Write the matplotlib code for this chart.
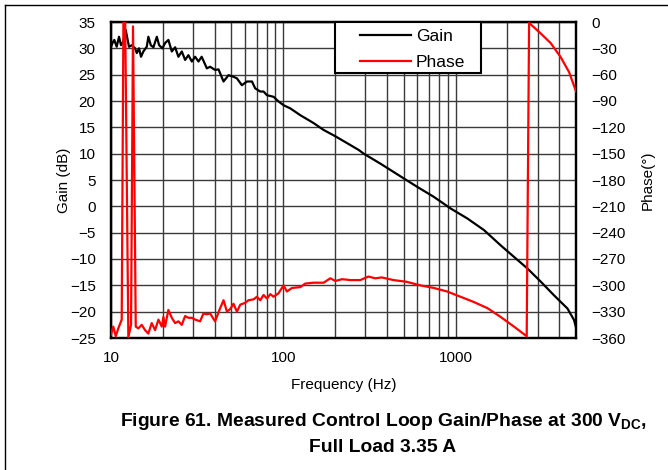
import numpy as np
import matplotlib
matplotlib.use("Agg")
import matplotlib.pyplot as plt
from matplotlib.lines import Line2D
from matplotlib.patches import Rectangle
from matplotlib.ticker import FixedLocator, NullFormatter

plt.rcParams['font.family'] = ['Liberation Sans', 'DejaVu Sans']
plt.rcParams['mathtext.fontset'] = 'custom'
plt.rcParams['mathtext.rm'] = 'Liberation Sans'
plt.rcParams['mathtext.bf'] = 'Liberation Sans:bold'

# ---- data ----
gain_freq = [10.0, 10.27, 10.45, 10.79, 11.13, 11.43, 11.74, 12.17, 12.72, 13.23, 13.79,
             14.11, 14.55, 14.94, 15.41, 16.13, 16.48, 17.02, 17.63, 18.45, 19.02, 19.87,
             20.6, 21.53, 22.54, 23.56, 24.62, 25.76, 26.93, 28.14, 29.46, 30.79, 32.18,
             33.6, 36.0, 37.6, 40.2, 42.1, 45.0, 48.1, 51.4, 53.8, 57.5, 61.5, 65.8, 68.7,
             73.5, 76.8, 80.4, 87.8, 93.9, 100.4, 109.8, 125.6, 150.1, 171.5, 200.6, 234.6,
             274.1, 293.0, 366.4, 500.5, 598.8, 747.7, 935.2, 1169.5, 1460.5, 1826, 2183,
             2612, 3121, 3728, 4461, 4873, 5000]
gain_db = [30.3, 31.2, 31.6, 30.3, 32.2, 30.6, 31.2, 33.5, 30.3, 30.6, 30.0,
           29.1, 30.0, 28.4, 29.4, 30.3, 32.2, 30.6, 30.2, 32.2, 30.6, 30.0,
           31.0, 31.6, 29.4, 30.2, 28.4, 29.4, 27.8, 28.7, 27.5, 28.4, 27.5,
           28.4, 26.2, 26.5, 25.9, 26.0, 23.7, 24.9, 24.6, 24.3, 23.0, 23.7, 23.7, 22.4,
           21.8, 21.8, 21.1, 20.8, 19.9, 19.2, 18.6, 17.3, 15.8, 14.5, 13.3, 12.0,
           10.7, 10.0, 8.1, 5.3, 3.7, 1.8, -0.4, -2.3, -4.5, -7.4, -9.6,
           -11.8, -14.3, -16.9, -19.4, -21.6, -23.0]

phase_freq = [10.0, 10.31, 10.65, 11.03, 11.54, 11.82, 12.06, 12.61, 13.07, 13.42, 13.92,
              14.41, 15.08, 15.76, 16.47, 17.23, 18.03, 18.85, 19.72, 20.14, 20.6, 21.53,
              22.54, 23.56, 24.62, 25.76, 26.93, 28.14, 29.46, 30.79, 32.9, 34.4, 36.0,
              37.6, 40.2, 43.0, 45.0, 47.1, 49.2, 51.4, 53.8, 56.3, 60.0, 62.8, 67.2, 70.3,
              73.5, 76.8, 80.4, 84.1, 87.8, 93.9, 100.4, 104.9, 112.3, 125.6, 134.1, 150.1,
              171.5, 187.4, 200.6, 219.3, 245, 280, 312, 342, 373, 436, 521, 623, 747.7,
              893, 1068, 1277, 1532, 1826, 2183, 2587, 2671, 3119, 3565, 4074, 4557, 5000]
phase_deg = [-356, -347, -358, -349, -339, 20, 20, -359, -345, -5, -347,
             -349, -345, -351, -355, -343, -351, -339, -347, -336, -347, -328,
             -337, -343, -341, -345, -335, -337, -337, -339, -341, -332, -333,
             -332, -341, -326, -317, -330, -327, -321, -330, -322, -320, -317, -316, -313,
             -317, -311, -315, -310, -313, -309, -300, -307, -303, -302, -298, -297,
             -297, -292, -295, -293, -294, -294, -290, -292, -291, -294, -296, -300, -303,
             -307, -313, -319, -326, -336, -347, -358, -1, -13, -24, -40, -57, -79]

gain_ticks = [-25, -20, -15, -10, -5, 0, 5, 10, 15, 20, 25, 30, 35]
phase_ticks = [-360, -330, -300, -270, -240, -210, -180, -150, -120, -90, -60, -30, 0]
freq_ticks = [10, 100, 1000]
freq_tick_labels = ['10', '100', '1000']
legend_labels = ['Gain', 'Phase']

W, H = 668, 470
fig = plt.figure(figsize=(W / 100, H / 100), dpi=100)
ax = fig.add_axes([111 / W, 1 - 338 / H, (576 - 111) / W, (338 - 22) / H])
ax2 = ax.twinx()

ax.set_xscale('log')
ax.set_xlim(10, 5000)
ax.set_ylim(-25, 35)
ax2.set_ylim(-360, 0)

minor = [m * 10 ** e for e in (1, 2, 3) for m in range(2, 10) if m * 10 ** e < 5000]
ax.xaxis.set_major_locator(FixedLocator(freq_ticks))
ax.set_xticklabels(freq_tick_labels)
ax.xaxis.set_minor_locator(FixedLocator(minor))
ax.xaxis.set_minor_formatter(NullFormatter())
ax.set_yticks(gain_ticks)
ax.set_yticklabels([str(v).replace('-', '\u2212') for v in gain_ticks])
ax2.set_yticks(phase_ticks)
ax2.set_yticklabels([str(v).replace('-', '\u2212') for v in phase_ticks])

gridc = '#3a3a3a'
ax.grid(True, which='both', axis='x', color=gridc, linewidth=1.0)
ax.grid(True, which='major', axis='y', color=gridc, linewidth=1.0)
ax.set_axisbelow(True)

ax.tick_params(axis='both', which='both', length=0, labelsize=11)
ax.tick_params(axis='x', pad=9)
ax.tick_params(axis='y', pad=11)
ax2.tick_params(axis='y', length=0, labelsize=11, pad=11)

for a in (ax, ax2):
    for s in a.spines.values():
        s.set_linewidth(1.6)
        s.set_color('black')

lg, = ax.plot(gain_freq, gain_db, color='black', linewidth=1.6, zorder=3)
lp, = ax2.plot(phase_freq, phase_deg, color='#ff0000', linewidth=1.6, zorder=3)

ax.set_xlabel('Frequency (Hz)', fontsize=11, labelpad=10)
ax.set_ylabel('Gain (dB)', fontsize=11, labelpad=-1)
ax2.set_ylabel('Phase(\u00b0)', fontsize=11, labelpad=11)

# legend box
x0 = (335 - 111) / 465
y0 = (338 - 73) / 316
ax2.add_patch(Rectangle((x0, y0), (481 - 335) / 465, 1 - y0, transform=ax2.transAxes,
                        facecolor='white', edgecolor='black', linewidth=1.5, zorder=5,
                        clip_on=False))
leg = ax2.legend([lg, lp], legend_labels, loc='upper left',
                 bbox_to_anchor=((353 - 111) / 465, 1.0), borderaxespad=0, fontsize=12.5,
                 frameon=False, handlelength=2.9, handletextpad=0.3, borderpad=0.42,
                 labelspacing=0.62)
leg.set_zorder(6)

fig.text(383 / W, 1 - 421 / H,
         'Figure 61. Measured Control Loop Gain/Phase at 300 V$_{\\mathbf{DC}}$,',
         ha='center', va='center', fontsize=13.9, fontweight='bold')
fig.text(383 / W, 1 - 447 / H, 'Full Load 3.35 A',
         ha='center', va='center', fontsize=13.9, fontweight='bold')

# figure frame (top and left edges visible)
fig.add_artist(Line2D([5 / W, 1.0], [1 - 5 / H, 1 - 5 / H], color='black', linewidth=1.0,
                      transform=fig.transFigure))
fig.add_artist(Line2D([5 / W, 5 / W], [0.0, 1 - 5 / H], color='black', linewidth=1.0,
                      transform=fig.transFigure))

fig.savefig('out.png', dpi=100)
